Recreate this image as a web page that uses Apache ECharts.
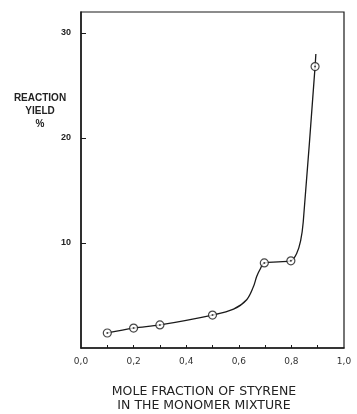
<!DOCTYPE html>
<html>
<head>
<meta charset="utf-8">
<script src="https://cdn.jsdelivr.net/npm/echarts@6/dist/echarts.min.js"></script>
<style>
  html, body { margin: 0; padding: 0; background: #fff; }
  #chart { width: 357px; height: 414px; }
</style>
</head>
<body>
<div id="chart"></div>
<script>
// measured points (circles)
let moleFraction = [0.1, 0.2, 0.3, 0.5, 0.697, 0.798, 0.89];
let reactionYield = [1.43, 1.9, 2.2, 3.14, 8.1, 8.3, 26.8];

// hand drawn fit line
let curveX = [0.1, 0.2, 0.3, 0.5, 0.58, 0.63, 0.655, 0.668, 0.68, 0.697, 0.75, 0.798, 0.82, 0.835, 0.845, 0.89, 0.893];
let curveY = [1.43, 1.9, 2.2, 3.14, 3.7, 4.6, 5.8, 6.8, 7.45, 8.1, 8.2, 8.3, 9.0, 10.2, 12, 26.8, 28];

let xLabels = [0, 0.2, 0.4, 0.6, 0.8, 1.0];
let xTicks = [0.1, 0.2, 0.3, 0.4, 0.5, 0.6, 0.7, 0.8, 0.9];
let yLabels = [10, 20, 30];

let ink = '#1a1a1a';
let chart = echarts.init(document.getElementById('chart'));

let pts = moleFraction.map((x, i) => [x, reactionYield[i]]);
let line = curveX.map((x, i) => [x, curveY[i]]);

let options = {
    animation: false,
    grid: { left: 81, right: 13, top: 12, bottom: 66, show: true, borderColor: ink, borderWidth: 1.2 },
    xAxis: {
        type: 'value', min: 0, max: 1,
        axisLine: { lineStyle: { color: ink, width: 1.5 } },
        axisTick: { inside: true, length: 3, customValues: xTicks, lineStyle: { color: ink } },
        axisLabel: {
            customValues: xLabels, margin: 9, color: '#333', fontSize: 9,
            fontFamily: 'DejaVu Sans',
            formatter: v => v.toFixed(1).replace('.', ',')
        },
        splitLine: { show: false }
    },
    yAxis: {
        type: 'value', min: 0, max: 32,
        axisLine: { show: true, lineStyle: { color: ink, width: 1.5 } },
        axisTick: { inside: true, length: 5, customValues: yLabels, lineStyle: { color: ink } },
        axisLabel: {
            customValues: yLabels, margin: 10, color: '#222', fontSize: 9,
            fontWeight: 'bold', fontFamily: 'Liberation Sans'
        },
        splitLine: { show: false }
    },
    graphic: [
        {
            type: 'text',
            style: {
                x: 40, y: 92, text: 'REACTION\nYIELD\n%', align: 'center',
                font: 'bold 10px Liberation Sans', lineHeight: 13, fill: '#222'
            }
        },
        {
            type: 'text',
            style: {
                x: 204, y: 385, text: 'MOLE FRACTION OF STYRENE\nIN THE MONOMER MIXTURE',
                align: 'center', font: '12.5px DejaVu Sans', lineHeight: 14, fill: '#222'
            }
        }
    ],
    series: [
        {
            type: 'line', data: line, smooth: 0.35, showSymbol: false,
            lineStyle: { color: ink, width: 1.3 }, z: 2
        },
        {
            type: 'scatter', data: pts, symbol: 'circle', symbolSize: 8,
            itemStyle: { color: '#fff', borderColor: ink, borderWidth: 1.2 }, z: 3
        },
        {
            type: 'scatter', data: pts, symbol: 'circle', symbolSize: 2,
            itemStyle: { color: ink }, z: 4
        }
    ]
};

chart.setOption(options);
</script>
</body>
</html>
